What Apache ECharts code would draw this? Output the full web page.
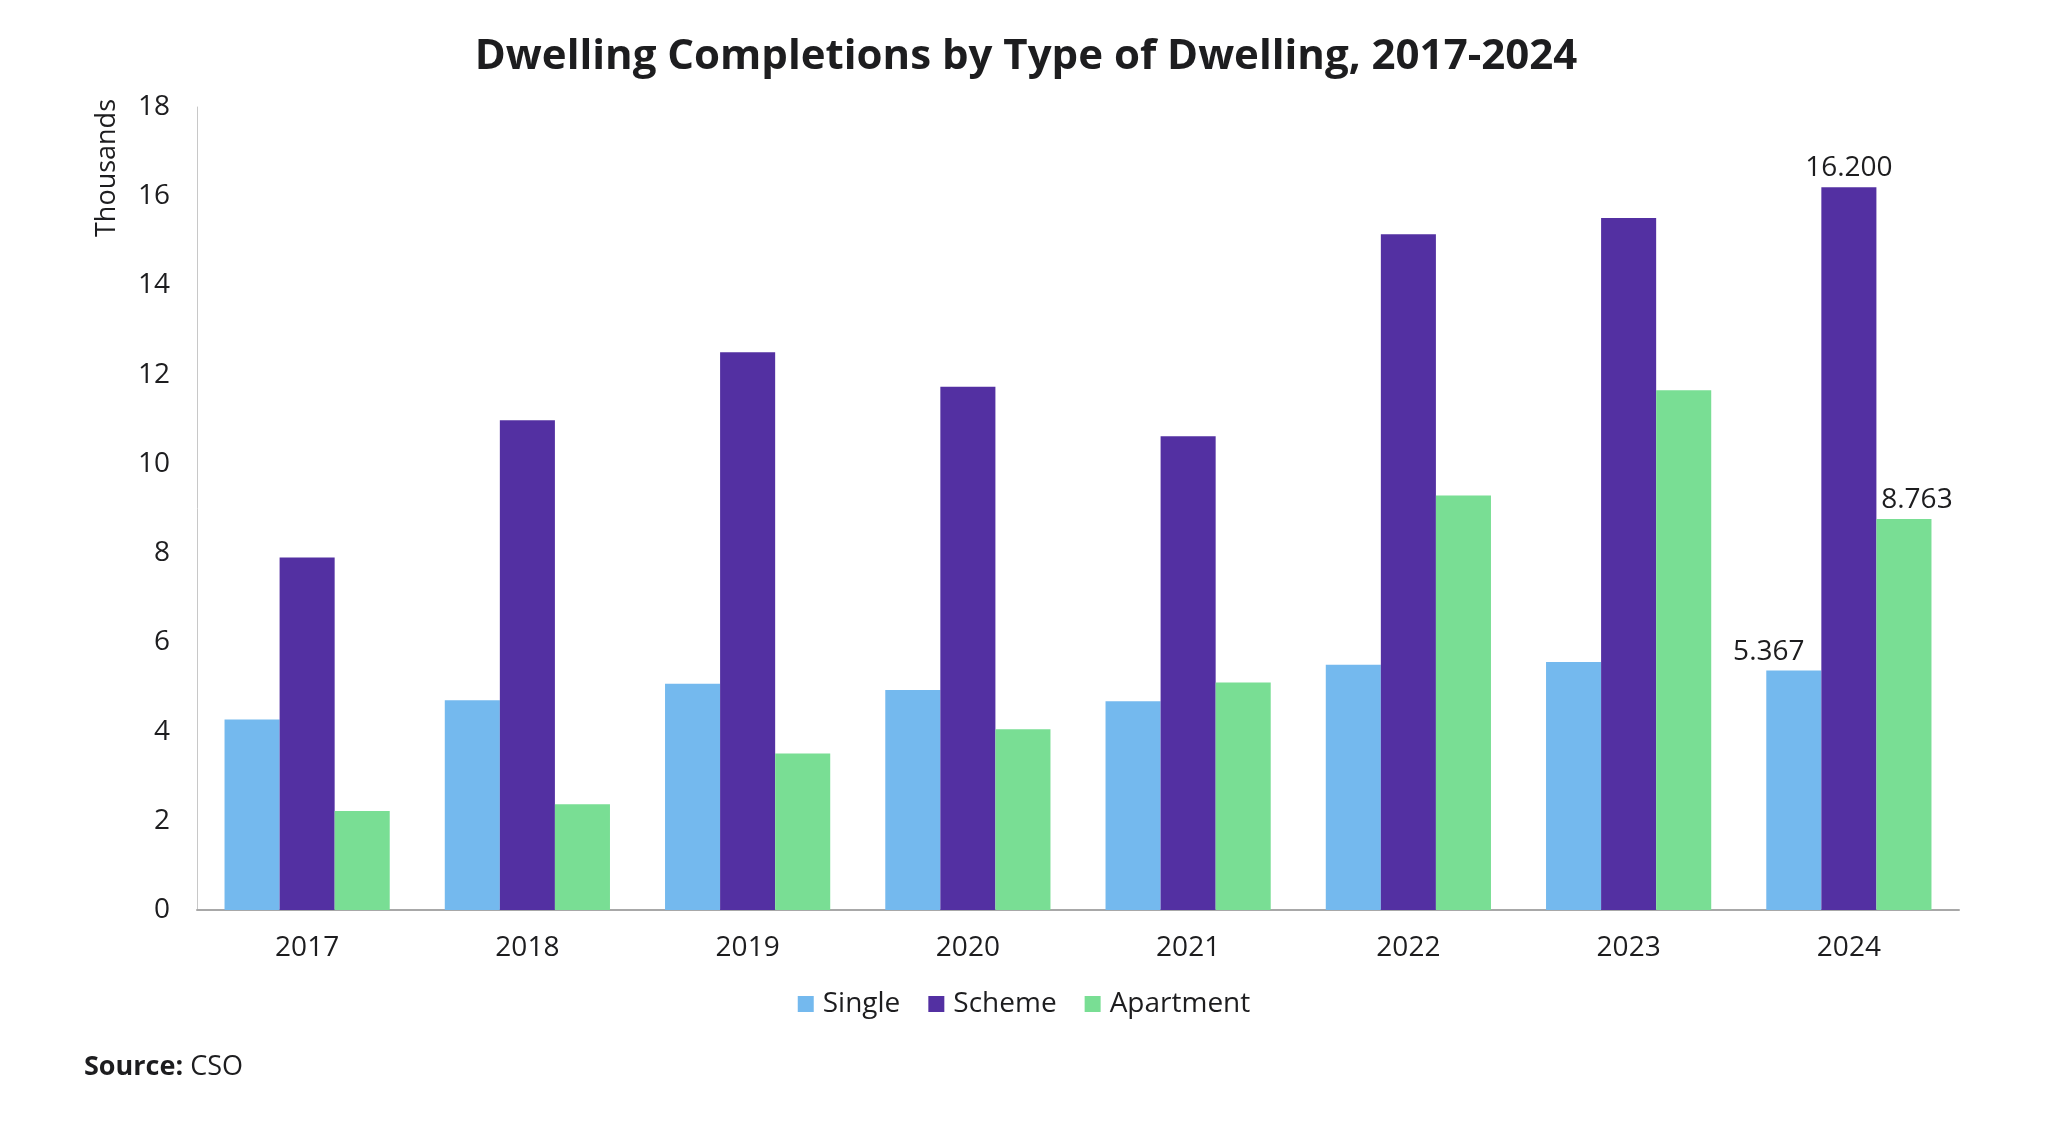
<!DOCTYPE html>
<html>
<head>
<meta charset="utf-8">
<title>Dwelling Completions by Type of Dwelling, 2017-2024</title>
<script src="https://cdn.jsdelivr.net/npm/echarts@6/dist/echarts.min.js"></script>
<style>
  html, body { margin: 0; padding: 0; background: #fff; }
  #chart { width: 2048px; height: 1122px; }
</style>
</head>
<body>
<div id="chart"></div>
<script>
// data (thousands)
var years = ['2017', '2018', '2019', '2020', '2021', '2022', '2023', '2024'];
var single = [4.27, 4.70, 5.07, 4.93, 4.68, 5.50, 5.56, 5.367];
var scheme = [7.90, 10.98, 12.50, 11.73, 10.62, 15.15, 15.51, 16.200];
var apartment = [2.22, 2.37, 3.51, 4.05, 5.10, 9.29, 11.65, 8.763];
var yTicks = [0, 2, 4, 6, 8, 10, 12, 14, 16, 18];

var textColor = '#1d1d1f';
var font = 'Open Sans';

// only the last bar of each series carries a value label
function withLastLabel(values, offset) {
    return values.map(function (v, i) {
        if (i !== values.length - 1) return v;
        return {
            value: v,
            label: {
                show: true,
                position: 'top',
                offset: offset,
                formatter: function (p) { return p.value.toFixed(3); },
                color: textColor,
                fontFamily: font,
                fontSize: 28
            }
        };
    });
}

var myChart = echarts.init(document.getElementById('chart'));

var option = {
    animation: false,
    backgroundColor: '#fff',
    title: [{
        text: 'Dwelling Completions by Type of Dwelling, 2017-2024',
        left: 1021,
        textAlign: 'center',
        top: 31,
        textStyle: {
            color: textColor,
            fontFamily: font,
            fontWeight: 'bold',
            fontSize: 42
        }
    }, {
        text: '{b|Source:} CSO',
        left: 79,
        top: 1049,
        textStyle: {
            color: textColor,
            fontFamily: font,
            fontWeight: 'normal',
            fontSize: 27,
            rich: {
                b: { fontFamily: font, fontWeight: 'bold', fontSize: 27, color: textColor }
            }
        }
    }],
    legend: {
        data: ['Single', 'Scheme', 'Apartment'],
        left: 'center',
        top: 985,
        icon: 'rect',
        itemWidth: 16,
        itemHeight: 16,
        itemGap: 28,
        textStyle: {
            color: textColor,
            fontFamily: font,
            fontSize: 28,
            padding: [0, 0, 0, 4]
        }
    },
    grid: {
        left: 197,
        right: 89,
        top: 107,
        bottom: 212,
        containLabel: false
    },
    xAxis: {
        type: 'category',
        data: years,
        axisLine: { lineStyle: { color: '#a8a8a8', width: 2 } },
        axisTick: { show: false },
        axisLabel: {
            color: textColor,
            fontFamily: font,
            fontSize: 28,
            margin: 24
        }
    },
    yAxis: {
        type: 'value',
        min: yTicks[0],
        max: yTicks[yTicks.length - 1],
        interval: 2,
        name: 'Thousands',
        nameLocation: 'end',
        nameRotate: 90,
        nameGap: 8,
        nameTextStyle: {
            color: textColor,
            fontFamily: font,
            fontSize: 27,
            align: 'right',
            verticalAlign: 'bottom',
            padding: [0, 0, 76, 0]
        },
        axisLine: { show: true, lineStyle: { color: '#c8c8c8', width: 1 } },
        axisTick: { show: false },
        splitLine: { show: false },
        axisLabel: {
            color: textColor,
            fontFamily: font,
            fontSize: 28,
            margin: 27
        }
    },
    series: [{
        name: 'Single',
        type: 'bar',
        data: withLastLabel(single, [-25, 0]),
        barGap: '0%',
        barCategoryGap: '25%',
        itemStyle: { color: '#74b9ee' }
    }, {
        name: 'Scheme',
        type: 'bar',
        data: withLastLabel(scheme, [0, 0]),
        itemStyle: { color: '#5330a2' }
    }, {
        name: 'Apartment',
        type: 'bar',
        data: withLastLabel(apartment, [13, 0]),
        itemStyle: { color: '#79de94' }
    }]
};

myChart.setOption(option);
</script>
</body>
</html>
